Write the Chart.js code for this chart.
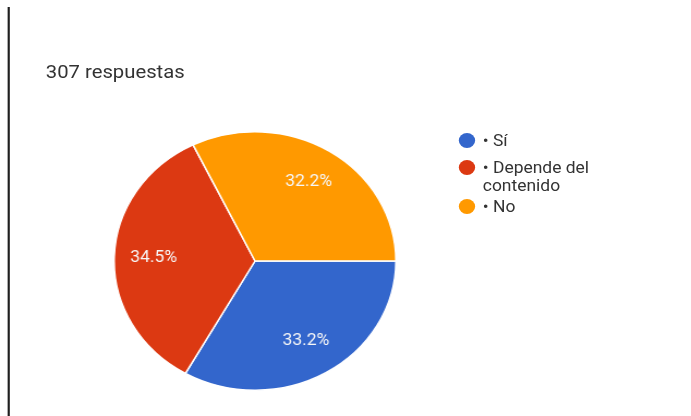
<!DOCTYPE html>
<html>
<head>
<meta charset="utf-8">
<script src="https://cdn.jsdelivr.net/npm/chart.js"></script>
<style>
  html, body { margin: 0; padding: 0; background: #fff; }
  body { width: 691px; height: 416px; overflow: hidden; position: relative; }
  #stage {
    position: absolute; left: 0; top: 0; width: 634px; height: 416px;
    transform: scaleX(1.0898); transform-origin: 0 0;
    font-family: Roboto, Arial, sans-serif; color: #333;
  }
  #edge { position: absolute; left: 7px; top: 7px; bottom: 0; width: 2px; background: #1f1f1f; }
  #title { position: absolute; left: 42px; top: 63px; font-size: 18.6px; line-height: 18.6px; white-space: nowrap; }
  #pieBox { position: absolute; left: 104px; top: 131px; width: 260px; height: 260px; }
  #legend { position: absolute; left: 421px; top: 0; }
  .item { position: absolute; left: 0; width: 140px; font-size: 16px; line-height: 18px; }
  .dot { position: absolute; left: 0; top: 1.5px; width: 15px; height: 15px; border-radius: 50%; }
  .txt { position: absolute; left: 22px; top: 0; width: 104px; }
</style>
</head>
<body>
<div id="stage">
  <div id="edge"></div>
  <div id="title"></div>
  <div id="pieBox"><canvas id="pie" width="260" height="260"></canvas></div>
  <div id="legend"></div>
</div>
<script>
// answer options and how many people picked each one
const labels = ['• Sí', '• Depende del contenido', '• No'];
const counts = [102, 106, 99];
const colors = ['#3366cc', '#dc3912', '#ff9900'];

const total = counts.reduce((a, b) => a + b, 0);
document.getElementById('title').textContent = total + ' respuestas';

// legend rows, one per option
const legendTops = [131.5, 158.5, 197.5];
const legend = document.getElementById('legend');
labels.forEach((label, i) => {
  const item = document.createElement('div');
  item.className = 'item';
  item.style.top = legendTops[i] + 'px';
  item.innerHTML = '<span class="dot" style="background:' + colors[i] + '"></span>' +
    '<span class="txt">' + label + '</span>';
  legend.appendChild(item);
});

// percentage written inside each slice
const sliceLabels = {
  id: 'sliceLabels',
  afterDatasetsDraw(chart) {
    const ctx = chart.ctx;
    const meta = chart.getDatasetMeta(0);
    const data = chart.data.datasets[0].data;
    const sum = data.reduce((a, b) => a + b, 0);
    ctx.save();
    ctx.fillStyle = '#f7f7f7';
    ctx.font = '16px Roboto, Arial, sans-serif';
    ctx.textAlign = 'center';
    ctx.textBaseline = 'middle';
    meta.data.forEach((arc, i) => {
      const p = arc.getProps(['x', 'y', 'startAngle', 'endAngle', 'outerRadius'], true);
      const mid = (p.startAngle + p.endAngle) / 2;
      const r = p.outerRadius * 0.72;
      const text = (data[i] / sum * 100).toFixed(1) + '%';
      ctx.fillText(text, p.x + Math.cos(mid) * r, p.y + Math.sin(mid) * r);
    });
    ctx.restore();
  }
};

new Chart(document.getElementById('pie').getContext('2d'), {
  type: 'pie',
  data: {
    labels: labels,
    datasets: [{
      data: counts,
      backgroundColor: colors,
      borderColor: '#ffffff',
      borderWidth: 1.5
    }]
  },
  options: {
    responsive: false,
    animation: false,
    rotation: 90,
    layout: { padding: 0 },
    plugins: {
      legend: { display: false },
      tooltip: { enabled: false }
    }
  },
  plugins: [sliceLabels]
});
</script>
</body>
</html>
